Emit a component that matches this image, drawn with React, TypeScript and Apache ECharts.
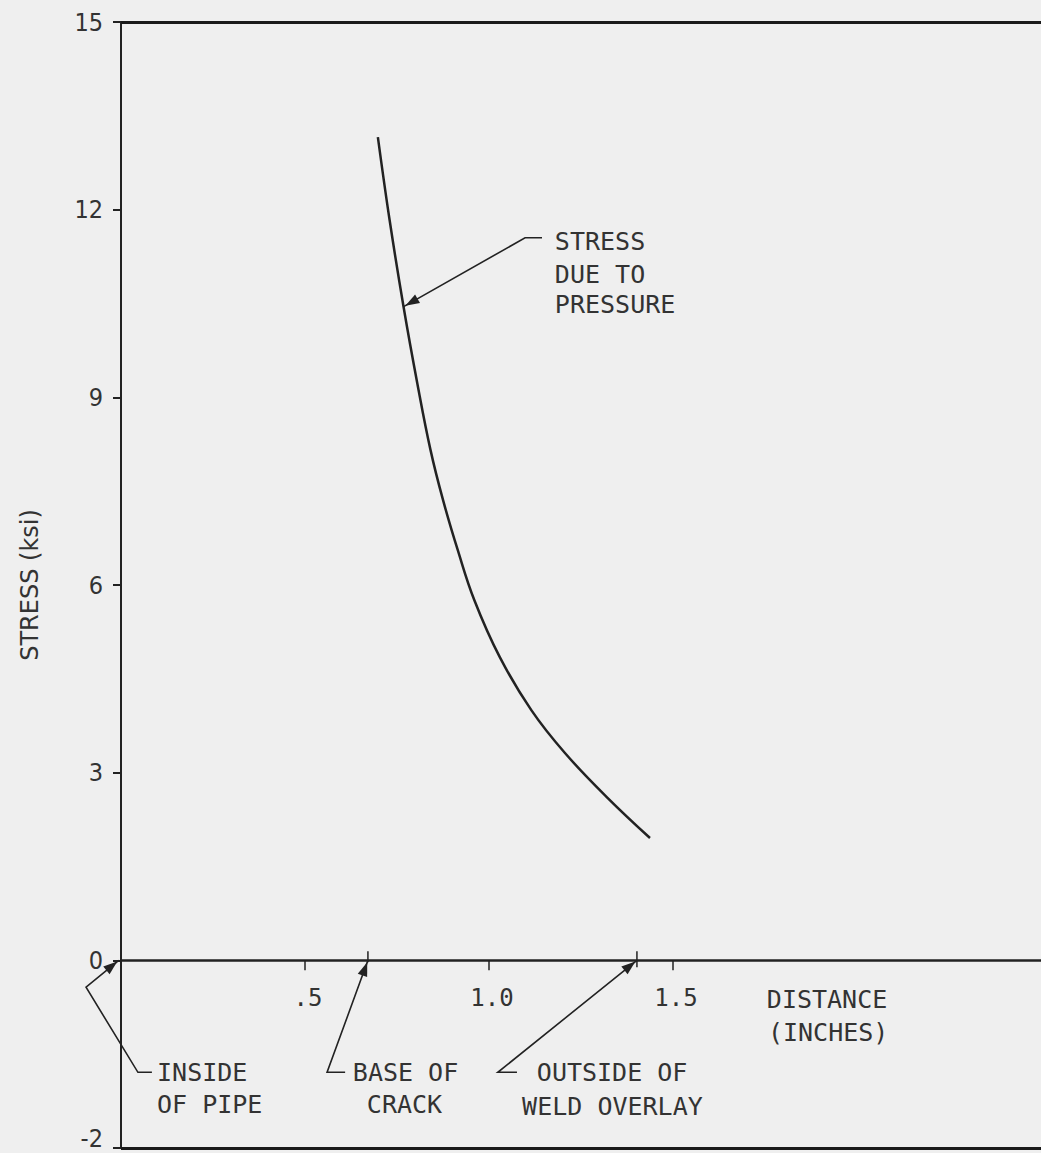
import React, { useEffect, useRef } from "react";
import * as echarts from "echarts";

// Curve: stress due to pressure vs distance from inside of pipe
const distance = [0.698, 0.73, 0.768, 0.805, 0.841, 0.875, 0.915, 0.96, 1.029, 1.115, 1.207, 1.32, 1.4375];
const stress = [13.16, 11.83, 10.44, 9.23, 8.16, 7.36, 6.56, 5.76, 4.85, 4.0, 3.31, 2.61, 1.955];

// Axis ticks
const xTickValues = [0.5, 1.0, 1.5];
const xTickLabels = [".5", "1.0", "1.5"];
const yTickValues = [0, 3, 6, 9, 12, 15];
const yTickLabels = ["0", "3", "6", "9", "12", "15"];
const yBottomValue = -3;
const yBottomLabel = "-2";

// Marked locations on the distance axis
const baseOfCrack = 0.671;
const outsideOfOverlay = 1.402;

// Annotation texts (data-space anchors: left edge, vertical middle)
const annotationTexts: [string, number, number][] = [
  ["STRESS", 1.179, 11.49],
  ["DUE TO", 1.179, 10.97],
  ["PRESSURE", 1.179, 10.49],
  ["INSIDE", 0.098, -1.79],
  ["OF PIPE", 0.098, -2.3],
  ["BASE OF", 0.63, -1.79],
  ["CRACK", 0.668, -2.3],
  ["OUTSIDE OF", 1.13, -1.79],
  ["WELD OVERLAY", 1.09, -2.33],
  ["DISTANCE", 1.755, -0.62],
  ["(INCHES)", 1.758, -1.15],
];

// Leader lines (last point is the arrow tip)
const leaders: [number, number][][] = [
  [[1.144, 11.55], [1.098, 11.55], [0.768, 10.45]],
  [[0.084, -1.79], [0.046, -1.79], [-0.095, -0.43], [-0.006, 0]],
  [[0.609, -1.79], [0.56, -1.79], [baseOfCrack, 0]],
  [[1.076, -1.79], [1.024, -1.79], [outsideOfOverlay, 0]],
];

const INK = "#222";
const MONO = '"DejaVu Sans Mono", "Liberation Mono", monospace';
const COND = '"DejaVu Sans Condensed", "Liberation Sans Narrow", "DejaVu Sans", sans-serif';

export default function App() {
  const ref = useRef<HTMLDivElement>(null);
  useEffect(() => {
    if (!ref.current) return;
    const chart = echarts.init(ref.current, undefined, { renderer: "svg" });
    chart.setOption({
      animation: false,
      backgroundColor: "#efefef",
      grid: { left: 121, top: 22, right: 0, bottom: 5, containLabel: false, outerBoundsMode: "none" },
      xAxis: {
        type: "value",
        min: 0,
        max: 2.5,
        interval: 0.5,
        axisLine: { onZero: true, lineStyle: { color: INK, width: 2.5 } },
        axisTick: { show: true, inside: false, length: 10, customValues: xTickValues, lineStyle: { color: INK, width: 1.5 } },
        axisLabel: { show: false },
        splitLine: { show: false },
      },
      yAxis: {
        type: "value",
        min: yBottomValue,
        max: 15,
        interval: 3,
        name: "STRESS (ksi)",
        nameLocation: "middle",
        nameGap: 79,
        nameTextStyle: { color: "#333", fontFamily: '"DejaVu Sans", sans-serif', fontSize: 24 },
        axisLine: { show: true, onZero: false, lineStyle: { color: INK, width: 2 } },
        axisTick: { show: true, inside: false, length: 8, lineStyle: { color: INK, width: 2 } },
        axisLabel: {
          margin: 18,
          color: "#333",
          fontFamily: COND,
          fontSize: 25,
          formatter: (v: number) => {
            const i = yTickValues.indexOf(v);
            return i >= 0 ? yTickLabels[i] : "";
          },
        },
        splitLine: { show: false },
      },
      series: [
        {
          type: "line",
          data: distance.map((d, i) => [d, stress[i]]),
          showSymbol: false,
          smooth: 0.4,
          lineStyle: { color: INK, width: 2.5 },
          markLine: {
            silent: true,
            symbol: "none",
            label: { show: false },
            lineStyle: { color: "#1a1a1a", width: 3, type: "solid" },
            data: [{ yAxis: 15 }, { yAxis: yBottomValue }],
          },
        },
      ],
    });

    const px = (p: [number, number]) =>
      chart.convertToPixel({ xAxisIndex: 0, yAxisIndex: 0 }, p) as number[];

    const graphics: any[] = [];
    leaders.forEach((pts) => {
      const pp = pts.map(px);
      graphics.push({
        type: "polyline",
        shape: { points: pp },
        style: { stroke: INK, lineWidth: 1.6, fill: null },
        silent: true,
      });
      const t = pp[pp.length - 1];
      const p = pp[pp.length - 2];
      const dx = t[0] - p[0];
      const dy = t[1] - p[1];
      const len = Math.hypot(dx, dy);
      const ux = dx / len;
      const uy = dy / len;
      const L = 16;
      const W = 5;
      const bx = t[0] - ux * L;
      const by = t[1] - uy * L;
      graphics.push({
        type: "polygon",
        shape: {
          points: [
            [t[0] - ux * 2, t[1] - uy * 2],
            [bx - uy * W, by + ux * W],
            [bx + uy * W, by - ux * W],
          ],
        },
        style: { fill: INK },
        silent: true,
      });
    });
    // small marks on the distance axis
    [
      [baseOfCrack, 9, 2],
      [outsideOfOverlay, 9, 7],
    ].forEach(([x, up, down]) => {
      const c = px([x, 0]);
      graphics.push({
        type: "line",
        shape: { x1: c[0], y1: c[1] - up, x2: c[0], y2: c[1] + down },
        style: { stroke: INK, lineWidth: 1.5 },
        silent: true,
      });
    });
    // bottom stress label, lifted slightly off the page edge
    {
      const c = px([0, yBottomValue]);
      graphics.push({
        type: "text",
        x: c[0] - 18,
        y: c[1] - 10,
        style: {
          text: yBottomLabel,
          fill: "#333",
          fontFamily: COND,
          fontSize: 25,
          align: "right",
          verticalAlign: "middle",
        },
        silent: true,
      });
    }
    // distance tick labels, placed under the zero line
    xTickValues.forEach((v, i) => {
      const c = px([v, 0]);
      graphics.push({
        type: "text",
        x: c[0] + 3,
        y: c[1] + 38,
        style: {
          text: xTickLabels[i],
          fill: "#333",
          fontFamily: MONO,
          fontSize: 24,
          align: "center",
          verticalAlign: "middle",
        },
        silent: true,
      });
    });
    annotationTexts.forEach(([text, x, y]) => {
      const c = px([x, y]);
      graphics.push({
        type: "text",
        x: c[0],
        y: c[1],
        style: {
          text,
          fill: "#333",
          fontFamily: MONO,
          fontSize: 25,
          align: "left",
          verticalAlign: "middle",
        },
        silent: true,
      });
    });
    chart.setOption({ graphic: graphics });

    return () => chart.dispose();
  }, []);
  return (
    <div
      ref={ref}
      style={{ position: "absolute", left: 0, top: 0, width: 1041, height: 1153 }}
    />
  );
}
